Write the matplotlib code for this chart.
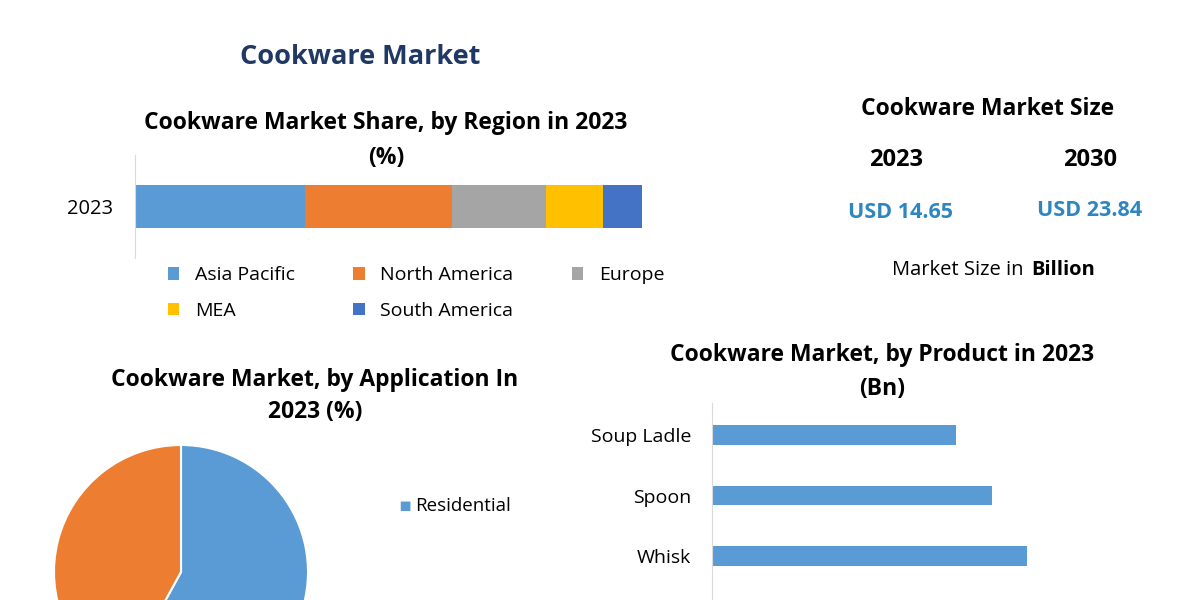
import matplotlib
matplotlib.use("Agg")
import matplotlib.pyplot as plt

regions = ["Asia Pacific", "North America", "Europe", "MEA", "South America"]
region_share = [33.5, 29.0, 18.5, 11.4, 7.6]
region_colors = ["#5b9bd5", "#ed7d31", "#a5a5a5", "#ffc000", "#4472c4"]

apps = ["Residential", "Commercial"]
app_share = [58, 42]

products = ["Soup Ladle", "Spoon", "Whisk", "Wok"]
product_vals = [2.44, 2.80, 3.15, 3.4]

years = ["2023", "2030"]
sizes = ["USD 14.65", "USD 23.84"]

plt.rcParams['font.family'] = ['Open Sans', 'DejaVu Sans']
fig = plt.figure(figsize=(12, 6), dpi=100)
fig.patch.set_facecolor("white")

def T(x, y, s, **kw):
    kw.setdefault("ha", "center")
    fig.text(x / 1200, 1 - y / 600, s, va="center", **kw)

T(360, 57, "Cookware Market", fontsize=19.5, fontweight="bold", color="#1f3864")

# Stacked bar
T(386, 123, "Cookware Market Share, by Region in 2023", fontsize=16.5, fontweight="bold")
T(386, 158, "(%)", fontsize=16.5, fontweight="bold")
ax1 = fig.add_axes([135 / 1200, 1 - 258 / 600, 507 / 1200, 103 / 600])
left = 0
handles = []
for r, v, c in zip(regions, region_share, region_colors):
    h = ax1.barh([0], [v], left=left, color=c, height=0.42, label=r)
    handles.append(h)
    left += v
ax1.set_xlim(0, 100)
ax1.set_ylim(-0.5, 0.5)
ax1.set_yticks([0]); ax1.set_yticklabels(["2023"], fontsize=14.5)
ax1.set_xticks([])
for s in ["top", "right", "bottom"]:
    ax1.spines[s].set_visible(False)
ax1.spines["left"].set_color("#d9d9d9")
ax1.tick_params(axis="y", length=0, pad=16)
order = [0, 3, 1, 4, 2]
fig.legend([handles[i] for i in order], [regions[i] for i in order],
           loc="upper left", bbox_to_anchor=(0.125, 0.585), ncol=3, frameon=False,
           fontsize=14, handlelength=0.6, handleheight=0.6, columnspacing=3.0, labelspacing=0.9)

# Market size
T(988, 109, "Cookware Market Size", fontsize=16.5, fontweight="bold")
T(896, 160, years[0], fontsize=17, fontweight="bold")
T(1090, 160, years[1], fontsize=17, fontweight="bold")
T(900, 213, sizes[0], fontsize=15.5, fontweight="bold", color="#2e86c1")
T(1090, 211, sizes[1], fontsize=15.5, fontweight="bold", color="#2e86c1")
T(1029, 270, "Market Size in ", ha="right", fontsize=14.5)
T(1031, 270, "Billion", ha="left", fontsize=14.5, fontweight="bold")

# Pie
T(315, 380, "Cookware Market, by Application In", fontsize=16.5, fontweight="bold")
T(315, 412, "2023 (%)", fontsize=16.5, fontweight="bold")
ax2 = fig.add_axes([54 / 1200, 1 - 699 / 600, 254 / 1200, 254 / 600])
ax2.pie(app_share, colors=["#5b9bd5", "#ed7d31"], startangle=90, counterclock=False,
        wedgeprops=dict(edgecolor="white", linewidth=1.5))
ax2.set_xlim(-1, 1); ax2.set_ylim(-1, 1)
T(398, 506, "▪", ha="left", fontsize=14, color="#5b9bd5")
T(415, 506, apps[0], ha="left", fontsize=13.5)

# Product bars
T(882, 355, "Cookware Market, by Product in 2023", fontsize=16.5, fontweight="bold")
T(882, 389, "(Bn)", fontsize=16.5, fontweight="bold")
ax3 = fig.add_axes([712 / 1200, 1 - 660 / 600, 420 / 1200, 257 / 600])
ypos = [0, 1, 2, 3]
ax3.barh(ypos, product_vals, color="#5b9bd5", height=0.33)
ax3.set_ylim(3.72, -0.53)
ax3.set_xlim(0, 4.2)
ax3.set_yticks(ypos); ax3.set_yticklabels(products, fontsize=14)
ax3.set_xticks([])
for s in ["top", "right", "bottom"]:
    ax3.spines[s].set_visible(False)
ax3.spines["left"].set_color("#d9d9d9")
ax3.tick_params(axis="y", length=0, pad=15)

fig.savefig("out.png", dpi=100)
